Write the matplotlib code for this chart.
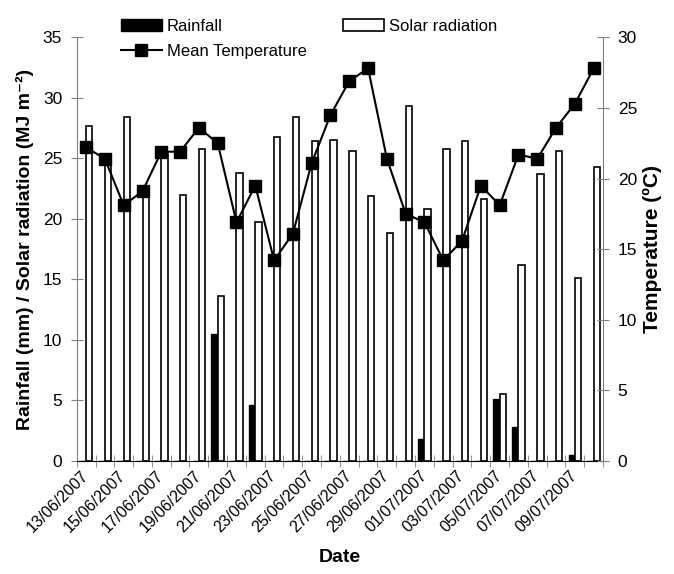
import numpy as np
import pandas as pd
import matplotlib.pyplot as plt
from matplotlib.transforms import ScaledTranslation

plt.rcParams['font.family'] = ['Liberation Sans', 'DejaVu Sans']

dates = pd.date_range("2007-06-13", periods=28).strftime("%d/%m/%Y").tolist()
rainfall = [0, 0, 0, 0, 0, 0, 0, 10.5, 0, 4.6, 0, 0, 0, 0, 0, 0, 0, 0, 1.8, 0,
            0, 0, 5.1, 2.8, 0, 0, 0.5, 0]
solar = [27.7, 25.0, 28.4, 22.0, 25.4, 22.0, 25.8, 13.6, 23.8, 19.7, 26.8, 28.4,
         26.4, 26.5, 25.6, 21.9, 18.8, 29.3, 20.8, 25.8, 26.4, 21.6, 5.5, 16.2,
         23.7, 25.6, 15.1, 24.3]
temperature = [22.2, 21.4, 18.1, 19.1, 21.9, 21.9, 23.6, 22.5, 16.9, 19.5, 14.2,
               16.1, 21.1, 24.5, 26.9, 27.8, 21.4, 17.5, 16.9, 14.2, 15.6, 19.5,
               18.1, 21.7, 21.4, 23.6, 25.3, 27.8]

x = np.arange(len(dates))
w = 1 / 3
grey = "#808080"

fig = plt.figure(figsize=(6.74, 5.74), dpi=100)
ax = fig.add_axes([0.1138, 0.197, 0.781, 0.738])

b1 = ax.bar(x - w / 2, rainfall, w, color="black", edgecolor="black", linewidth=1.0)
b2 = ax.bar(x + w / 2, solar, w, color="white", edgecolor="black", linewidth=1.2)

ax.set_xlim(-0.5, len(dates) - 0.5)
ax.set_ylim(0, 35)
ax.set_yticks(range(0, 36, 5))
ax.set_xticks(x[::2])
ax.set_xticklabels(dates[::2], rotation=45, ha="right", rotation_mode="anchor", fontsize=11.5)
ax.set_xticks(np.arange(-0.5, len(dates), 1), minor=True)
ax.tick_params(axis="x", which="major", length=0, pad=5)
ax.tick_params(axis="x", which="minor", direction="inout", length=9, color=grey)
ax.tick_params(axis="y", direction="inout", length=9, color=grey, labelsize=12.5, pad=6)
# nudge the rotated dates a little left, like the original
shift = ScaledTranslation(-4 / 72, 0, fig.dpi_scale_trans)
for lab in ax.get_xticklabels():
    lab.set_transform(lab.get_transform() + shift)

for s in ["top", "right"]:
    ax.spines[s].set_visible(False)
ax.spines["left"].set_color(grey)
ax.spines["bottom"].set_color("black")

ax.set_ylabel("Rainfall (mm) / Solar radiation (MJ m⁻²)", fontsize=14, fontweight="bold", labelpad=6)
ax.set_xlabel("Date", fontsize=14, fontweight="bold", labelpad=10)

ax2 = ax.twinx()
l1, = ax2.plot(x, temperature, color="black", lw=1.5, marker="s", markersize=8.5)
ax2.set_ylim(0, 30)
ax2.set_yticks(range(0, 31, 5))
ax2.tick_params(axis="y", direction="inout", length=9, color=grey, labelsize=12.5, pad=6)
for s in ["top", "left", "bottom"]:
    ax2.spines[s].set_visible(False)
ax2.spines["right"].set_color(grey)
ax2.set_ylabel("Temperature (ºC)", fontsize=15, fontweight="bold", labelpad=4)

fig.legend([b1, l1, b2], ["Rainfall", "Mean Temperature", "Solar radiation"],
           ncol=2, loc="upper left", bbox_to_anchor=(121 / 674, 1 - 19 / 574),
           frameon=False, fontsize=12, handlelength=2.45, handletextpad=0.3,
           columnspacing=2.2, labelspacing=0.6, borderpad=0, borderaxespad=0)

plt.savefig("out.png", dpi=100)
